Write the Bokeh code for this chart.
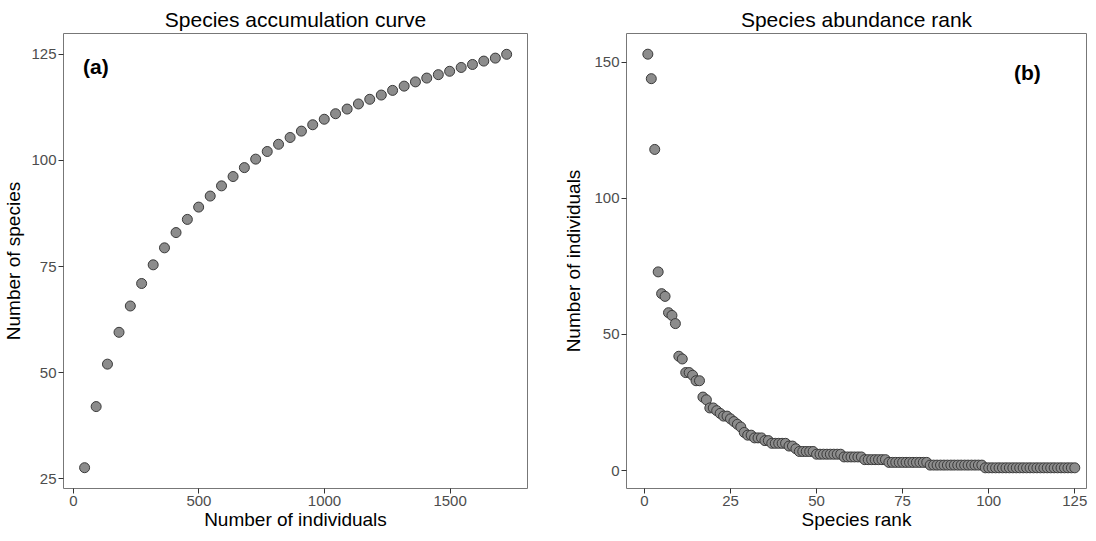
from bokeh.plotting import figure
from bokeh.layouts import row
from bokeh.models import Label, Range1d, FixedTicker
from bokeh.embed import file_html
from bokeh.resources import INLINE

# ---- data ----
individuals = [45, 91, 136, 182, 227, 272, 318, 363, 409, 454, 499, 545, 590, 636,
               681, 726, 772, 817, 863, 908, 953, 999, 1044, 1090, 1135, 1180, 1226,
               1271, 1317, 1362, 1407, 1453, 1498, 1544, 1589, 1634, 1680, 1725]
species = [27.6, 42, 52, 59.5, 65.7, 71, 75.4, 79.4, 83, 86.1,
           89, 91.6, 94, 96.2, 98.3, 100.3, 102.1, 103.8, 105.4, 106.9,
           108.4, 109.7, 111.0, 112.1, 113.3, 114.4, 115.4, 116.5, 117.5, 118.5,
           119.4, 120.2, 121.0, 121.9, 122.6, 123.4, 124.1, 125]

rank = list(range(1, 126))
abundance = [153, 144, 118, 73, 65, 64, 58, 57, 54, 42,
             41, 36, 36, 35, 33, 33, 27, 26, 23, 23,
             22, 21, 20, 20, 19, 18, 17, 16, 14, 13,
             13, 12, 12, 12, 11, 11, 10, 10, 10, 10,
             10, 9, 9, 8, 7, 7, 7, 7, 7, 6,
             6, 6, 6, 6, 6, 6, 6, 5, 5, 5,
             5, 5, 5, 4, 4, 4, 4, 4, 4, 4,
             3, 3, 3, 3, 3, 3, 3, 3, 3, 3,
             3, 3, 2, 2, 2, 2, 2, 2, 2, 2,
             2, 2, 2, 2, 2, 2, 2, 2, 1, 1,
             1, 1, 1, 1, 1, 1, 1, 1, 1, 1,
             1, 1, 1, 1, 1, 1, 1, 1, 1, 1,
             1, 1, 1, 1, 1]

left_ticks_x = [0, 500, 1000, 1500]
left_ticks_y = [25, 50, 75, 100, 125]
right_ticks_x = [0, 25, 50, 75, 100, 125]
right_ticks_y = [0, 50, 100, 150]

FONT = "Liberation Sans"
H = 533


def style(p, xt, yt, xlabel, ylabel, y_standoff):
    p.outline_line_color = "#777777"
    p.outline_line_width = 1
    p.grid.grid_line_color = None
    p.background_fill_color = "white"
    p.border_fill_color = "white"
    p.xaxis.ticker = FixedTicker(ticks=xt)
    p.yaxis.ticker = FixedTicker(ticks=yt)
    for ax in (p.xaxis[0], p.yaxis[0]):
        ax.axis_line_color = None
        ax.major_tick_out = 5
        ax.major_tick_in = 0
        ax.minor_tick_line_color = None
        ax.major_tick_line_color = "#333333"
        ax.major_label_text_font = FONT
        ax.major_label_text_font_size = "15px"
        ax.major_label_text_color = "#4D4D4D"
        ax.axis_label_text_font = FONT
        ax.axis_label_text_font_size = "19px"
        ax.axis_label_text_font_style = "normal"
        ax.axis_label_text_color = "black"
    p.xaxis.major_label_standoff = 2
    p.xaxis.axis_label_standoff = 0
    p.yaxis.major_label_standoff = 2
    p.yaxis.axis_label_standoff = y_standoff
    p.xaxis.axis_label = xlabel
    p.yaxis.axis_label = ylabel
    p.title.text_font = FONT
    p.title.text_font_size = "21px"
    p.title.text_font_style = "normal"
    p.title.text_color = "black"
    p.title.align = "center"
    p.title.standoff = 6


# ---- left panel ----
p1 = figure(width=560, height=H, output_backend="svg", toolbar_location=None,
            title="Species accumulation curve",
            x_range=Range1d(-39, 1808), y_range=Range1d(22.7, 129.9),
            min_border_left=58, min_border_right=33, min_border_top=33,
            min_border_bottom=45)
style(p1, left_ticks_x, left_ticks_y, "Number of individuals", "Number of species", 4)
p1.title.offset = -20
p1.scatter(individuals, species, size=10, fill_color="#8C8C8C",
           line_color="#3a3a3a", line_width=1)
p1.add_layout(Label(x=39, y=122.2, text="(a)", text_font=FONT,
                    text_font_size="21px", text_font_style="bold",
                    text_baseline="middle", text_align="left", text_color="black"))

# ---- right panel ----
p2 = figure(width=528, height=H, output_backend="svg", toolbar_location=None,
            title="Species abundance rank",
            x_range=Range1d(-5.2, 128.4), y_range=Range1d(-6.6, 160.6),
            min_border_left=65, min_border_right=2, min_border_top=33,
            min_border_bottom=45)
style(p2, right_ticks_x, right_ticks_y, "Species rank", "Number of individuals", 7)
p2.title.offset = -16
p2.scatter(rank, abundance, size=10, fill_color="#8C8C8C",
           line_color="#3a3a3a", line_width=1)
p2.add_layout(Label(x=115.1, y=146.4, text="(b)", text_font=FONT,
                    text_font_size="21px", text_font_style="bold",
                    text_baseline="middle", text_align="right", text_color="black"))

layout = row(p1, p2)
open("out.html", "w").write(file_html(layout, INLINE))
